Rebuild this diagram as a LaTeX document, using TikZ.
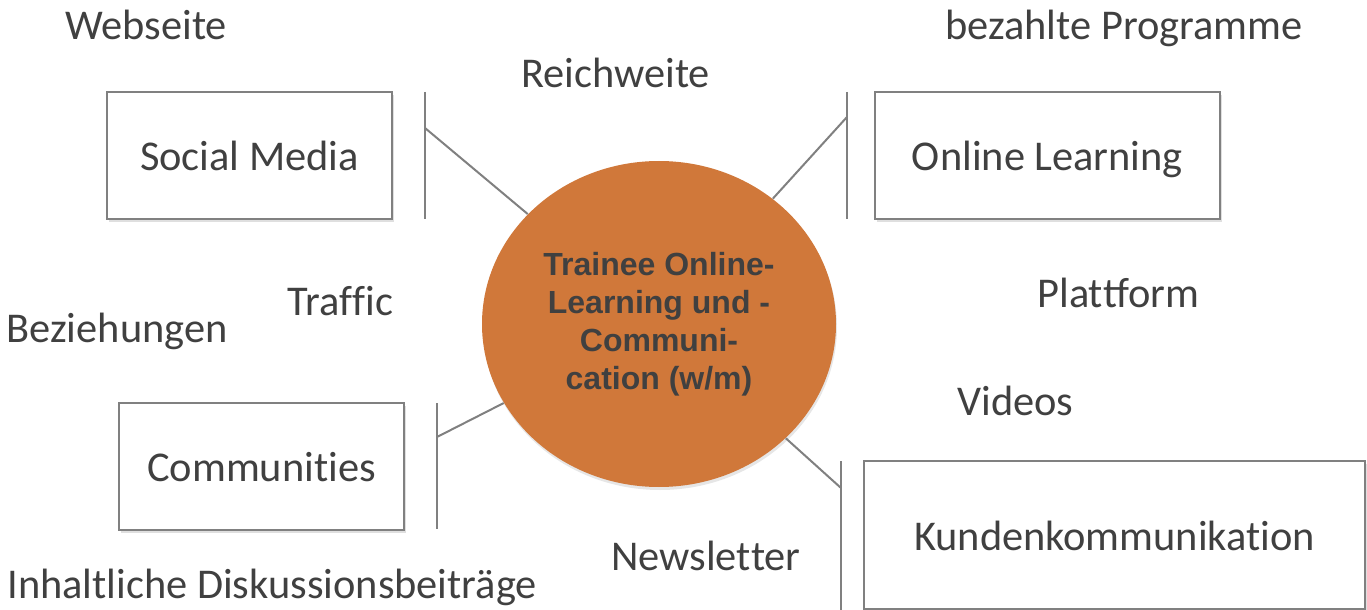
\documentclass[tikz,border=0pt]{standalone}
\usepackage{fontspec}
\setmainfont{Carlito}
\newfontfamily\hubfont{Liberation Sans}
\usetikzlibrary{shapes,shadows}

\definecolor{txtgray}{RGB}{64,64,64}
\definecolor{linegray}{RGB}{128,128,128}
\definecolor{hubfill}{RGB}{208,120,58}
\newcommand{\nolig}{\kern0pt}

\begin{document}
\begin{tikzpicture}[x=0.5pt,y=-0.5pt,
	box/.style={rectangle,draw=linegray,line width=1pt,fill=white,
		drop shadow={opacity=0.25,shadow xshift=1pt,shadow yshift=-1.5pt},
		text=txtgray,font=\fontsize{21.2}{25}\selectfont,
		text height=18pt,text depth=3pt,inner sep=0pt},
	lbl/.style={anchor=base west,inner sep=0pt,text=txtgray,
		font=\fontsize{21.2}{25}\selectfont},
	conn/.style={draw=linegray,line width=1pt}]

	\useasboundingbox (0,0) rectangle (1367,610);

		\node[box,minimum width=142.5pt,minimum height=63.5pt] (social) at (249.5,155.5) {Social Media};
		\node[box,minimum width=172.5pt,minimum height=63.5pt] (online) at (1047.5,155.5) {Online Learning};
		\node[box,minimum width=142.5pt,minimum height=63.5pt] (commu) at (261.5,466.5) {Communit\nolig ies};
		\node[box,minimum width=250.5pt,minimum height=74pt] (kunden) at (1114.5,535) {Kundenkommunikat\nolig ion};

		\node[ellipse,fill=hubfill,minimum width=177pt,minimum height=163pt,inner sep=0pt,
			drop shadow={opacity=0.2,shadow xshift=0.5pt,shadow yshift=-1.5pt},
			align=center,text=txtgray,font=\hubfont\bfseries\fontsize{16}{19}\selectfont]
			(hub) at (659,324) {Trainee Online-\\Learning und -\\Communi-\\cation (w/m)};

		\node[lbl] (webseite) at (65,40) {Webseite};
		\node[lbl] (bezahlt) at (945,40) {bezahlte Programme};
		\node[lbl] (reich) at (521,88) {Reichweite};
		\node[lbl] (traffic) at (287,315) {Traf\nolig f\nolig ic};
		\node[lbl] (bezieh) at (6,343) {Beziehungen};
		\node[lbl] (plattform) at (1037,307) {Plat\nolig tform};
		\node[lbl] (videos) at (957,415) {Videos};
		\node[lbl] (news) at (611,570) {Newslet\nolig ter};
		\node[lbl] (inhalt) at (7,598) {Inhaltliche Diskussionsbeiträge};

		\coordinate (smTop) at (425,92);
		\coordinate (smBot) at (425,219);
		\coordinate (smJoin) at (425,128);
		\coordinate (olTop) at (847,92);
		\coordinate (olBot) at (847,219);
		\coordinate (olJoin) at (847,117);
		\coordinate (coTop) at (437,403);
		\coordinate (coBot) at (437,529);
		\coordinate (coJoin) at (437,437);
		\coordinate (kuTop) at (841,461);
		\coordinate (kuBot) at (841,610);
		\coordinate (kuJoin) at (841,488);

		\path[conn] (smTop) edge (smBot);
		\path[conn] (smJoin) edge (hub);
		\path[conn] (olTop) edge (olBot);
		\path[conn] (olJoin) edge (hub);
		\path[conn] (coTop) edge (coBot);
		\path[conn] (coJoin) edge (hub);
		\path[conn] (kuTop) edge (kuBot);
		\path[conn] (kuJoin) edge (hub);

	\end{tikzpicture}
\end{document}
